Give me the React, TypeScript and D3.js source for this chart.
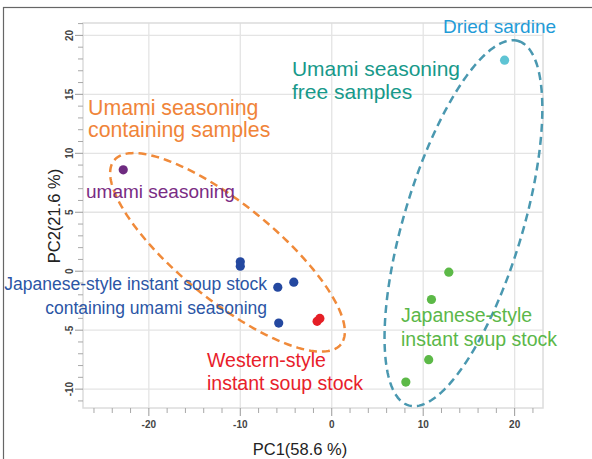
import * as d3 from 'd3';

// sample scores
const groupColors = ['#6e2a80', '#2448a0', '#e51f26', '#5cb947', '#5ec4d4'];

const pc1Values = [-22.8, -10.0, -10.0, -5.9, -4.15, -5.8, -1.6, -1.3, 12.8, 10.9, 10.6, 8.1, 18.9];
const pc2Values = [8.6, 0.8, 0.42, -1.36, -0.93, -4.4, -4.25, -4.0, -0.08, -2.4, -7.5, -9.4, 17.9];
const sampleGroup = [0, 1, 1, 1, 1, 1, 2, 2, 3, 3, 3, 3, 4];

const xTicks = [-20, -10, 0, 10, 20];
const yTicks = [-10, -5, 0, 5, 10, 15, 20];

// group ellipses: centre and two conjugate half-axes, in PC units
const ellipseCenters = [[-11.4, 1.6], [14.4, 4.07]];
const ellipseAxisA = [[12.4, -7.8], [6.0, 15.45]];
const ellipseAxisB = [[-3.3, -3.17], [6.2, -1.45]];
const ellipseColors = ['#f08a3a', '#4a98b0'];

// text annotations anchored in PC units
const labelLines = [
  ['Dried sardine'],
  ['Umami seasoning', 'free samples'],
  ['Umami seasoning', 'containing samples'],
  ['umami seasoning'],
  ['Japanese-style instant soup stock', 'containing umami seasoning'],
  ['Western-style', 'instant soup stock'],
  ['Japanese-style', 'instant soup stock'],
];
const labelPC1 = [12.17, -4.35, -26.65, -26.87, -7.08, -13.64, 7.57];
const labelPC2 = [20.2, 16.56, 13.25, 6.21, -1.59, -8.12, -4.31];
const labelColors = ['#1f9bd7', '#17998a', '#f08439', '#7a2c84', '#2b55a5', '#e8202a', '#5bb749'];
const labelAnchor = ['start', 'start', 'start', 'start', 'end', 'start', 'start'];
const labelSize = [19, 21, 21.3, 19, 17.5, 19.5, 19.5];
const labelGap = [0, 23, 22, 0, 24, 23, 24];

const W = 592;
const H = 459;
const left = 83, right = 543, top = 23, bottom = 408;

export default function App() {
  const x = d3.scaleLinear().domain([-27.2, 23.1]).range([left, right]);
  const y = d3.scaleLinear().domain([-11.6, 21.05]).range([bottom, top]);

  const xMinor = d3.range(-26, 23, 2).filter(v => !xTicks.includes(v));
  const yMinor = d3.range(-11, 22, 1).filter(v => !yTicks.includes(v));

  const ellipsePath = (i: number) => {
    const ts = d3.range(0, 2 * Math.PI, Math.PI / 90);
    const pts = ts.map(t => [
      x(ellipseCenters[i][0] + ellipseAxisA[i][0] * Math.cos(t) + ellipseAxisB[i][0] * Math.sin(t)),
      y(ellipseCenters[i][1] + ellipseAxisA[i][1] * Math.cos(t) + ellipseAxisB[i][1] * Math.sin(t)),
    ] as [number, number]);
    return d3.line().curve(d3.curveLinearClosed)(pts) || '';
  };

  const font = '"Liberation Sans", Arial, Helvetica, sans-serif';

  return (
    <svg width={W} height={H} style={{ position: 'absolute', left: 0, top: 0, background: '#fff' }} fontFamily={font}>
      <rect x={3.5} y={7.5} width={W + 10} height={H + 10} fill="none" stroke="#666" strokeWidth={1.2} />

      {/* panel grid */}
      {xTicks.map(v => (
        <line key={'gx' + v} x1={x(v)} x2={x(v)} y1={top} y2={bottom} stroke="#e4e4e4" strokeWidth={1.3} />
      ))}
      {yTicks.map(v => (
        <line key={'gy' + v} x1={left} x2={right} y1={y(v)} y2={y(v)} stroke="#e4e4e4" strokeWidth={1.3} />
      ))}
      <rect x={left} y={top} width={right - left} height={bottom - top} fill="none" stroke="#dcdcdc" strokeWidth={1.5} />

      {/* ticks */}
      {xTicks.map(v => (
        <g key={'xt' + v}>
          <line x1={x(v)} x2={x(v)} y1={bottom} y2={bottom + 8} stroke="#9a9a9a" strokeWidth={1} />
          <text x={x(v)} y={bottom + 20} textAnchor="middle" fontSize={10} fontWeight="bold" fill="#444">{v}</text>
        </g>
      ))}
      {xMinor.map(v => (
        <line key={'xm' + v} x1={x(v)} x2={x(v)} y1={bottom} y2={bottom + 5} stroke="#a8a8a8" strokeWidth={1} />
      ))}
      {yTicks.map(v => (
        <g key={'yt' + v}>
          <line x1={left - 8} x2={left} y1={y(v)} y2={y(v)} stroke="#9a9a9a" strokeWidth={1} />
          <text transform={`translate(${left - 10},${y(v)}) rotate(-90)`} textAnchor="middle" fontSize={10} fontWeight="bold" fill="#444">{v}</text>
        </g>
      ))}
      {yMinor.map(v => (
        <line key={'ym' + v} x1={left - 5} x2={left} y1={y(v)} y2={y(v)} stroke="#a8a8a8" strokeWidth={1} />
      ))}

      {/* axis titles */}
      <text x={300} y={455} textAnchor="middle" fontSize={16.5} fill="#222">PC1(58.6 %)</text>
      <text transform={`translate(60,216) rotate(-90)`} textAnchor="middle" fontSize={16.5} fill="#222">PC2(21.6 %)</text>

      {/* ellipses */}
      {ellipseCenters.map((_, i) => (
        <path key={'el' + i} d={ellipsePath(i)} fill="none" stroke={ellipseColors[i]} strokeWidth={2.5} strokeDasharray="8 5" />
      ))}

      {/* points */}
      {pc1Values.map((v, i) => (
        <circle key={'p' + i} cx={x(v)} cy={y(pc2Values[i])} r={4.6} fill={groupColors[sampleGroup[i]]} />
      ))}

      {/* labels */}
      {labelLines.map((lines, i) => (
        <text key={'lb' + i} x={x(labelPC1[i])} y={y(labelPC2[i])} textAnchor={labelAnchor[i]} fontSize={labelSize[i]} fill={labelColors[i]}>
          {lines.map((s, j) => (
            <tspan key={j} x={x(labelPC1[i])} dy={j === 0 ? 0 : labelGap[i]}>{s}</tspan>
          ))}
        </text>
      ))}
    </svg>
  );
}
